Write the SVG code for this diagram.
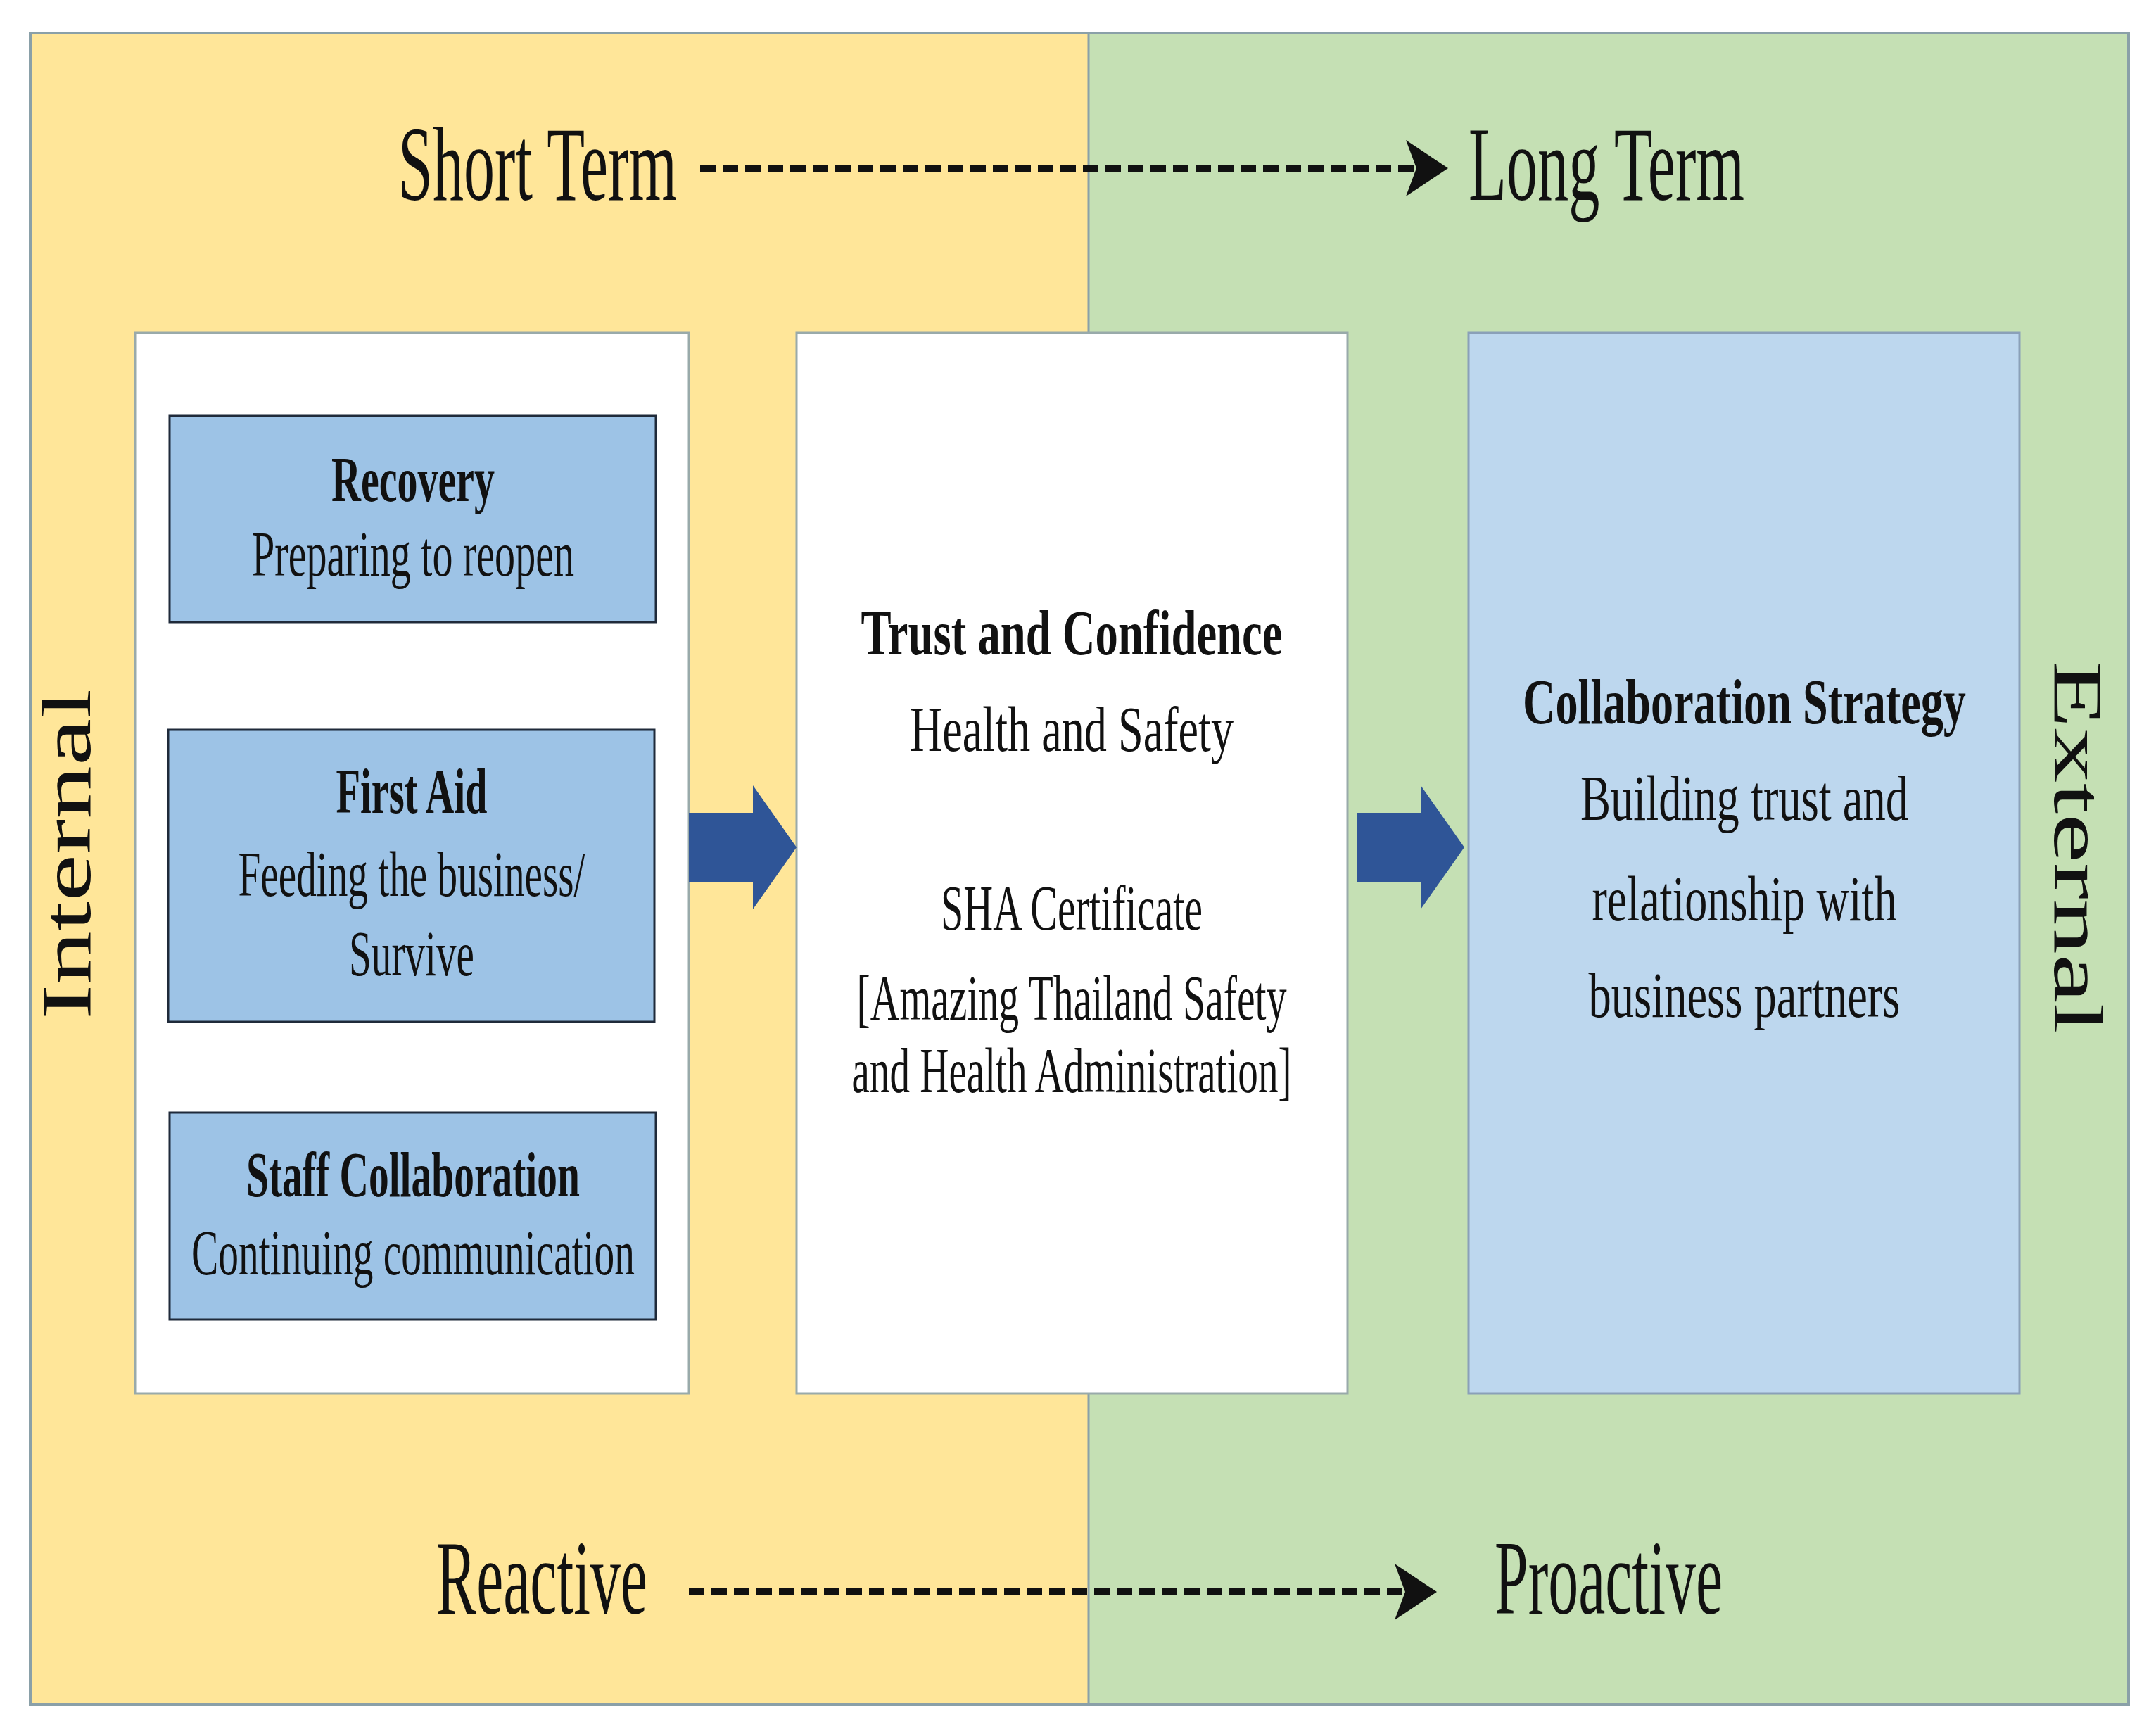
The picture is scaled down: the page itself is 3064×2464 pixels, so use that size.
<svg xmlns="http://www.w3.org/2000/svg" width="3064" height="2464" viewBox="0 0 3064 2464">
<style>
text{font-family:"Liberation Serif","Times New Roman",serif;fill:#111;text-anchor:middle}
.b{font-weight:bold}
.t{font-size:92px}
.h{font-size:150px}
.side{font-size:100px}
.sub{fill:#9dc3e6;stroke:#1f2a3a;stroke-width:3}
.dash{stroke:#111;stroke-width:10;stroke-dasharray:22 10;fill:none}
</style>
<defs>
<marker id="ah" markerWidth="6" markerHeight="8" refX="5" refY="4" orient="auto" markerUnits="strokeWidth"><path d="M0,0 L6,4 L0,8 L1.5,4 Z" fill="#111"/></marker>
</defs>
<rect width="3064" height="2464" fill="#fff"/>
<g id="background">
<rect x="43" y="47" width="1504" height="2375" fill="#ffe699"/>
<rect x="1547" y="47" width="1478" height="2375" fill="#c5e0b4"/>
<rect x="43" y="47" width="2982" height="2375" fill="none" stroke="#8aa0a8" stroke-width="4"/>
<line x1="1547" y1="47" x2="1547" y2="2422" stroke="#8aa0a8" stroke-width="3"/>
</g>
<g id="labels">
<text class="h" x="764" y="284" textLength="396" lengthAdjust="spacingAndGlyphs">Short Term</text>
<text class="h" x="2283" y="284" textLength="392" lengthAdjust="spacingAndGlyphs">Long Term</text>
<text class="h" x="770" y="2293" textLength="300" lengthAdjust="spacingAndGlyphs">Reactive</text>
<text class="h" x="2286" y="2293" textLength="324" lengthAdjust="spacingAndGlyphs">Proactive</text>
<text class="side" transform="translate(128,1214) rotate(-90)" textLength="470" lengthAdjust="spacingAndGlyphs">Internal</text>
<text class="side" transform="translate(2920,1204) rotate(90)" textLength="530" lengthAdjust="spacingAndGlyphs">External</text>
</g>
<g id="internal">
<rect x="192" y="473" width="787" height="1507" fill="#fff" stroke="#9aa" stroke-width="3"/>
</g>
<g id="recovery">
<rect class="sub" x="241" y="591" width="691" height="293"/>
<text class="t b" x="587" y="712" textLength="232" lengthAdjust="spacingAndGlyphs">Recovery</text>
<text class="t" x="587" y="818" textLength="458" lengthAdjust="spacingAndGlyphs">Preparing to reopen</text>
</g>
<g id="firstaid">
<rect class="sub" x="239" y="1037" width="691" height="415"/>
<text class="t b" x="585" y="1155" textLength="215" lengthAdjust="spacingAndGlyphs">First Aid</text>
<text class="t" x="585" y="1273" textLength="493" lengthAdjust="spacingAndGlyphs">Feeding the business/</text>
<text class="t" x="585" y="1386" textLength="178" lengthAdjust="spacingAndGlyphs">Survive</text>
</g>
<g id="staff">
<rect class="sub" x="241" y="1581" width="691" height="294"/>
<text class="t b" x="587" y="1700" textLength="474" lengthAdjust="spacingAndGlyphs">Staff Collaboration</text>
<text class="t" x="587" y="1811" textLength="630" lengthAdjust="spacingAndGlyphs">Continuing communication</text>
</g>
<g id="trust">
<rect x="1132" y="473" width="783" height="1507" fill="#fff" stroke="#9aa" stroke-width="3"/>
<text class="t b" x="1523" y="930" textLength="599" lengthAdjust="spacingAndGlyphs">Trust and Confidence</text>
<text class="t" x="1523" y="1067" textLength="460" lengthAdjust="spacingAndGlyphs">Health and Safety</text>
<text class="t" x="1523" y="1321" textLength="372" lengthAdjust="spacingAndGlyphs">SHA Certificate</text>
<text class="t" x="1523" y="1449" textLength="611" lengthAdjust="spacingAndGlyphs">[Amazing  Thailand Safety</text>
<text class="t" x="1523" y="1552" textLength="625" lengthAdjust="spacingAndGlyphs">and Health Administration]</text>
</g>
<g id="collab">
<rect x="2087" y="473" width="783" height="1507" fill="#bdd7ee" stroke="#8aa0b8" stroke-width="3"/>
<text class="t b" x="2479" y="1028" textLength="630" lengthAdjust="spacingAndGlyphs">Collaboration Strategy</text>
<text class="t" x="2479" y="1165" textLength="466" lengthAdjust="spacingAndGlyphs">Building trust and</text>
<text class="t" x="2479" y="1308" textLength="433" lengthAdjust="spacingAndGlyphs">relationship with</text>
<text class="t" x="2479" y="1445" textLength="443" lengthAdjust="spacingAndGlyphs">business partners</text>
</g>
<g id="connectors">
<path d="M979,1155 H1070 V1116 L1132,1204 L1070,1292 V1253 H979 Z" fill="#2f5597"/>
<path d="M1928,1155 H2019 V1116 L2081,1204 L2019,1292 V1253 H1928 Z" fill="#2f5597"/>
<line class="dash" x1="995" y1="239" x2="2048" y2="239" marker-end="url(#ah)"/>
<line class="dash" x1="979" y1="2262" x2="2032" y2="2262" marker-end="url(#ah)"/>
</g>
</svg>
